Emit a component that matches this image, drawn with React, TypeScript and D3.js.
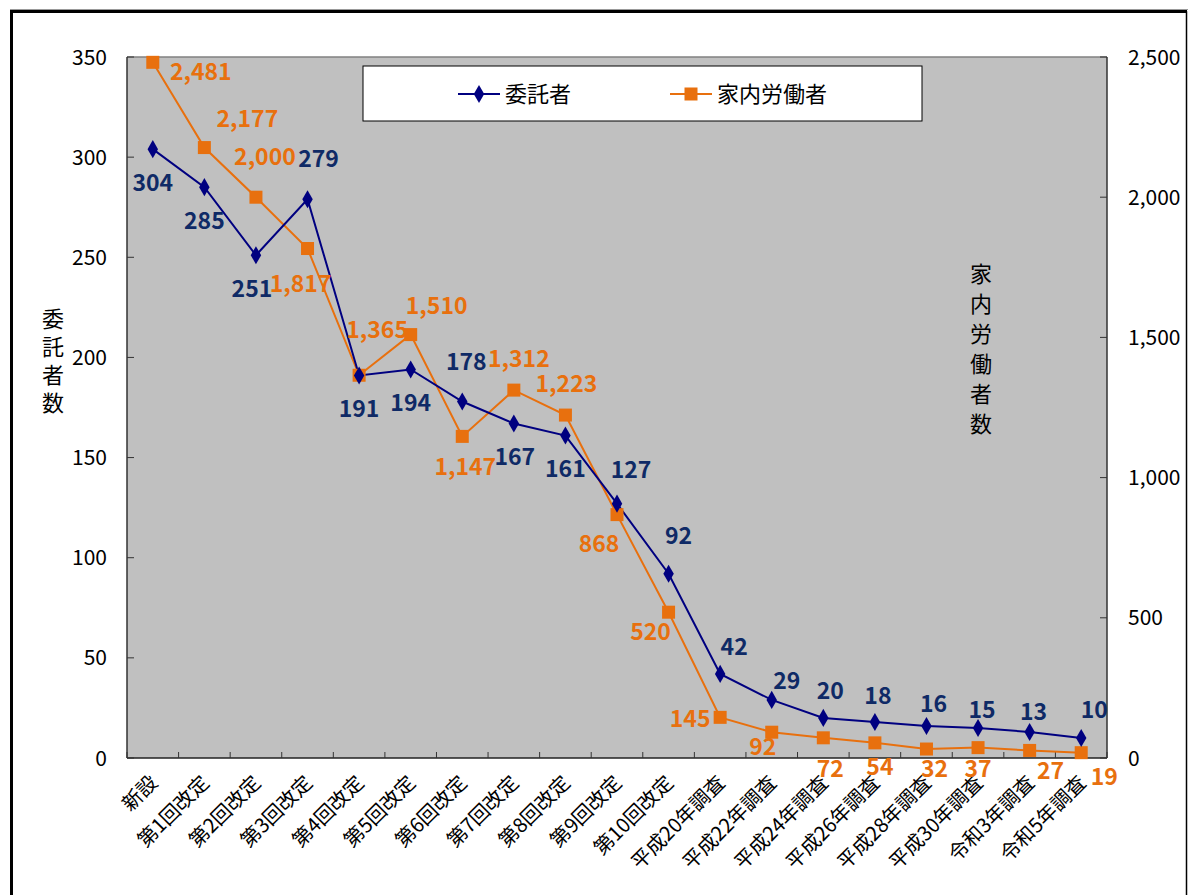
import React from 'react';
import * as d3 from 'd3';

// 家内労働者・委託者数の推移
const categories = [
	'新設', '第1回改定', '第2回改定', '第3回改定', '第4回改定', '第5回改定',
	'第6回改定', '第7回改定', '第8回改定', '第9回改定', '第10回改定',
	'平成20年調査', '平成22年調査', '平成24年調査', '平成26年調査',
	'平成28年調査', '平成30年調査', '令和3年調査', '令和5年調査',
];
const consignors = [304, 285, 251, 279, 191, 194, 178, 167, 161, 127, 92, 42, 29, 20, 18, 16, 15, 13, 10];
const homeWorkers = [2481, 2177, 2000, 1817, 1365, 1510, 1147, 1312, 1223, 868, 520, 145, 92, 72, 54, 32, 37, 27, 19];
const leftTicks = [0, 50, 100, 150, 200, 250, 300, 350];
const rightTicks = [0, 500, 1000, 1500, 2000, 2500];
const seriesNames = ['委託者', '家内労働者'];
const leftTitle = '委託者数';
const rightTitle = '家内労働者数';

// label offsets from each point (layout only)
const consignorLabelOffsets = [
	[0, 34], [0, 34], [-4, 33], [11, -40], [0, 33], [0, 33], [4, -40], [1, 33], [0, 33], [14, -34],
	[10, -38], [14, -27], [15, -19], [7, -27], [3, -26], [7, -22], [4, -18], [4, -20], [13, -28],
];
const workerLabelOffsets = [
	[48, 9], [43, -29], [9, -40], [-7, 35], [18, -46], [26, -29], [3, 30], [5, -31], [1, -31], [-18, 29],
	[-18, 20], [-30, 1], [-9, 15], [7, 31], [5, 24], [8, 20], [0, 21], [21, 20], [23, 24],
];

const W = 1188;
const H = 895;
const FONT = '"Noto Sans CJK JP", "Noto Sans", sans-serif';
const NAVY = '#000080';
const NAVY_TEXT = '#0f2a66';
const ORANGE = '#E8700E';

const plot = { left: 127, right: 1107, top: 57, bottom: 758 };

const App = () => {
	const x = d3.scaleBand().domain(categories).range([plot.left, plot.right]).padding(0);
	const yL = d3.scaleLinear().domain([0, 350]).range([plot.bottom, plot.top]);
	const yR = d3.scaleLinear().domain([0, 2500]).range([plot.bottom, plot.top]);
	const cx = (i) => x(categories[i]) + x.bandwidth() / 2;
	const fmt = d3.format(',');

	const lineL = d3.line().x((d, i) => cx(i)).y(d => yL(d));
	const lineR = d3.line().x((d, i) => cx(i)).y(d => yR(d));
	const diamond = d3.symbol().type(d3.symbolDiamond).size(95);

	const bandTicks = categories.map((c, i) => x(c)).concat([plot.right]);

	return (
		<svg width={W} height={H} style={{ position: 'absolute', left: 0, top: 0, fontFamily: FONT }}>
			<rect x={0} y={0} width={W} height={H} fill='white' />
			{/* outer frame */}
			<line x1={10} y1={9.5} x2={W} y2={9.5} stroke='#999' strokeWidth={1} />
			<rect x={11.5} y={12} width={1175} height={H} fill='none' stroke='black' strokeWidth={1.5} />
			<line x1={10} y1={11.5} x2={1187} y2={11.5} stroke='black' strokeWidth={3} />
			<line x1={11.5} y1={10} x2={11.5} y2={H} stroke='black' strokeWidth={3} />

			{/* plot area */}
			<rect x={plot.left} y={plot.top} width={plot.right - plot.left} height={plot.bottom - plot.top} fill='#C0C0C0' />
			<line x1={plot.left} y1={plot.top} x2={plot.right} y2={plot.top} stroke='#808080' strokeWidth={1.5} />
			<line x1={plot.left} y1={plot.top} x2={plot.left} y2={plot.bottom} stroke='#333' strokeWidth={1.5} />
			<line x1={plot.right} y1={plot.top} x2={plot.right} y2={plot.bottom} stroke='#333' strokeWidth={1.5} />
			<line x1={plot.left} y1={plot.bottom} x2={plot.right} y2={plot.bottom} stroke='#222' strokeWidth={1.5} />

			{/* left axis */}
			{leftTicks.map(t => (
				<g key={'l' + t}>
					<line x1={plot.left} x2={plot.left + 7} y1={yL(t)} y2={yL(t)} stroke='#333' />
					<text x={107} y={yL(t)} dy='0.36em' textAnchor='end' fontSize={21} fill='black'>{fmt(t)}</text>
				</g>
			))}
			{/* right axis */}
			{rightTicks.map(t => (
				<g key={'r' + t}>
					<line x1={plot.right - 7} x2={plot.right} y1={yR(t)} y2={yR(t)} stroke='#333' />
					<text x={1128} y={yR(t)} dy='0.36em' textAnchor='start' fontSize={21} fill='black'>{fmt(t)}</text>
				</g>
			))}
			{/* category ticks */}
			{bandTicks.map((bx, i) => (
				<line key={'t' + i} x1={bx} x2={bx} y1={plot.bottom} y2={plot.bottom - 6} stroke='#333' />
			))}
			{categories.map((c, i) => (
				<text key={c} transform={`translate(${cx(i) + 6},${784}) rotate(-45)`} textAnchor='end' fontSize={20} fill='black'>{c}</text>
			))}

			{/* axis titles, written vertically */}
			<text x={53} y={364} textAnchor='middle' fontSize={22} fill='black'
				style={{ writingMode: 'vertical-rl', letterSpacing: '6px' }}>{leftTitle}</text>
			<text x={981} y={353} textAnchor='middle' fontSize={22} fill='black'
				style={{ writingMode: 'vertical-rl', letterSpacing: '8px' }}>{rightTitle}</text>

			{/* lines */}
			<path d={lineR(homeWorkers)} fill='none' stroke={ORANGE} strokeWidth={2} />
			<path d={lineL(consignors)} fill='none' stroke={NAVY} strokeWidth={2} />
			{homeWorkers.map((v, i) => (
				<rect key={'s' + i} x={cx(i) - 6.5} y={yR(v) - 6.5} width={13} height={13} fill={ORANGE} />
			))}
			{consignors.map((v, i) => (
				<path key={'d' + i} d={diamond()} transform={`translate(${cx(i)},${yL(v)})`} fill={NAVY} />
			))}

			{/* data labels */}
			{homeWorkers.map((v, i) => (
				<text key={'wl' + i} x={cx(i) + workerLabelOffsets[i][0]} y={yR(v) + workerLabelOffsets[i][1]} dy='0.36em'
					textAnchor='middle' fontSize={23} fontWeight='bold' fill={ORANGE}>{fmt(v)}</text>
			))}
			{consignors.map((v, i) => (
				<text key={'cl' + i} x={cx(i) + consignorLabelOffsets[i][0]} y={yL(v) + consignorLabelOffsets[i][1]} dy='0.36em'
					textAnchor='middle' fontSize={23} fontWeight='bold' fill={NAVY_TEXT}>{fmt(v)}</text>
			))}

			{/* legend */}
			<g>
				<rect x={363} y={66} width={559} height={55} fill='white' stroke='black' strokeWidth={1} />
				<line x1={458} x2={500} y1={94} y2={94} stroke={NAVY} strokeWidth={2} />
				<path d={diamond()} transform='translate(479,94)' fill={NAVY} />
				<text x={505} y={94} dy='0.36em' fontSize={22} fill='black'>{seriesNames[0]}</text>
				<line x1={670} x2={712} y1={94} y2={94} stroke={ORANGE} strokeWidth={2} />
				<rect x={684.5} y={87.5} width={13} height={13} fill={ORANGE} />
				<text x={717} y={94} dy='0.36em' fontSize={22} fill='black'>{seriesNames[1]}</text>
			</g>
		</svg>
	);
};

export default App;
